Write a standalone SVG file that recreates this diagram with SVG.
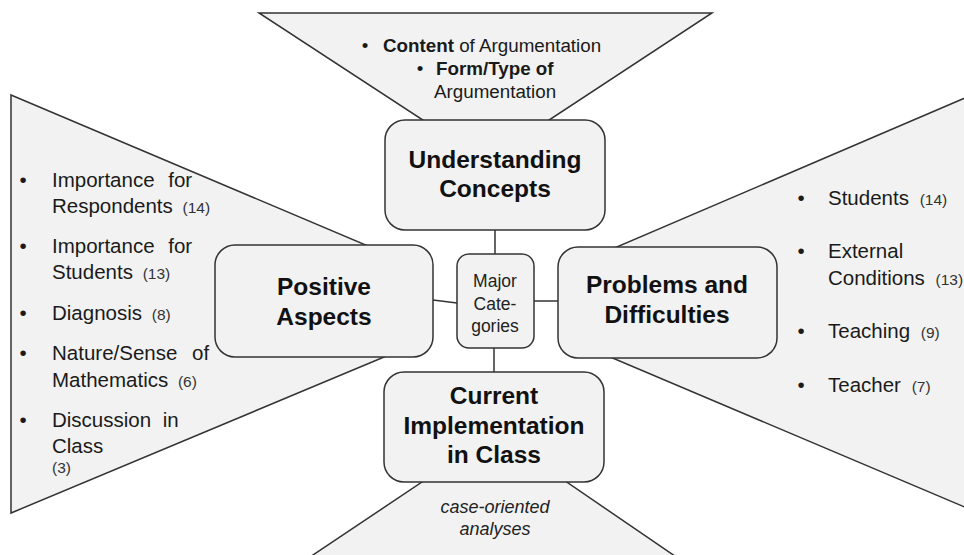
<svg xmlns="http://www.w3.org/2000/svg" width="964" height="555" viewBox="0 0 964 555">
<style>
.fan{fill:#f2f2f2;stroke:#333;stroke-width:1.5;stroke-linejoin:miter}
.box{fill:#f2f2f2;stroke:#333;stroke-width:1.5}
.con{stroke:#333;stroke-width:1.5;fill:none}
.t{font-family:"Liberation Sans",Arial,sans-serif;fill:#1a1a1a}
.title{font-size:24.5px;font-weight:bold;text-anchor:middle;fill:#111}
.side{font-size:20.5px}
.top{font-size:18.8px}
.cnt{font-size:15.5px;fill:#333}
.mid{font-size:17.5px;text-anchor:middle;fill:#222}
.it{font-size:18px;font-style:italic;text-anchor:middle;fill:#222}
.b{font-weight:bold}
.bul{text-anchor:middle}
</style>
<rect width="964" height="555" fill="#fff"/>
<g id="fans">
<polygon class="fan" points="259,13 712,13 534,130 438,130"/>
<polygon class="fan" points="11,95 420,268 420,342 11,513"/>
<polygon class="fan" points="570,267 1000,83 1000,522 570,340"/>
<polygon class="fan" points="437,472 552,472 688,565 298,565"/>
</g>
<g id="connectors">
<line class="con" x1="495" y1="230" x2="495" y2="254"/>
<line class="con" x1="494" y1="348" x2="494" y2="372"/>
<line class="con" x1="433" y1="300" x2="457" y2="303"/>
<line class="con" x1="534" y1="301" x2="558" y2="301"/>
</g>
<g id="understanding">
<rect class="box" x="385" y="120" width="220" height="110" rx="20"/>
<text class="t title" x="495" y="168">Understanding</text>
<text class="t title" x="495" y="197">Concepts</text>
</g>
<g id="positive">
<rect class="box" x="215" y="245" width="218" height="112" rx="20"/>
<text class="t title" x="324" y="295">Positive</text>
<text class="t title" x="324" y="325">Aspects</text>
</g>
<g id="major">
<rect class="box" x="457" y="254" width="77" height="94" rx="12"/>
<text class="t mid" x="495" y="287">Major</text>
<text class="t mid" x="495" y="310">Cate-</text>
<text class="t mid" x="495" y="332">gories</text>
</g>
<g id="problems">
<rect class="box" x="558" y="247" width="219" height="111" rx="20"/>
<text class="t title" x="667" y="293">Problems and</text>
<text class="t title" x="667" y="323">Difficulties</text>
</g>
<g id="current">
<rect class="box" x="384" y="372" width="220" height="110" rx="20"/>
<text class="t title" x="494" y="404">Current</text>
<text class="t title" x="494" y="434">Implementation</text>
<text class="t title" x="494" y="463">in Class</text>
</g>
<g id="top-text">
<text class="t top bul" x="365" y="52">•</text>
<text class="t top" x="383" y="52"><tspan class="b">Content</tspan> of Argumentation</text>
<text class="t top bul" x="420" y="75">•</text>
<text class="t top b" x="436" y="75">Form/Type of</text>
<text class="t top" x="434" y="98">Argumentation</text>
</g>
<g id="left-text">
<text class="t side bul" x="23" y="187">•</text>
<text class="t side" x="52" y="187" word-spacing="8">Importance for</text>
<text class="t side" x="52" y="213">Respondents <tspan class="cnt" dx="4">(14)</tspan></text>
<text class="t side bul" x="23" y="253">•</text>
<text class="t side" x="52" y="253" word-spacing="8">Importance for</text>
<text class="t side" x="52" y="279">Students <tspan class="cnt" dx="4">(13)</tspan></text>
<text class="t side bul" x="23" y="320">•</text>
<text class="t side" x="52" y="320">Diagnosis <tspan class="cnt" dx="4">(8)</tspan></text>
<text class="t side bul" x="23" y="360">•</text>
<text class="t side" x="52" y="360" word-spacing="9">Nature/Sense of</text>
<text class="t side" x="52" y="387">Mathematics <tspan class="cnt" dx="4">(6)</tspan></text>
<text class="t side bul" x="23" y="427">•</text>
<text class="t side" x="52" y="427" word-spacing="6">Discussion in</text>
<text class="t side" x="52" y="453">Class</text>
<text class="t cnt" x="52" y="473">(3)</text>
</g>
<g id="right-text">
<text class="t side bul" x="801" y="205">•</text>
<text class="t side" x="828" y="205">Students <tspan class="cnt" dx="5">(14)</tspan></text>
<text class="t side bul" x="801" y="258">•</text>
<text class="t side" x="828" y="258">External</text>
<text class="t side" x="828" y="285">Conditions <tspan class="cnt" dx="5">(13)</tspan></text>
<text class="t side bul" x="801" y="338">•</text>
<text class="t side" x="828" y="338">Teaching <tspan class="cnt" dx="5">(9)</tspan></text>
<text class="t side bul" x="801" y="392">•</text>
<text class="t side" x="828" y="392">Teacher <tspan class="cnt" dx="5">(7)</tspan></text>
</g>
<g id="bottom-text">
<text class="t it" x="495" y="513">case-oriented</text>
<text class="t it" x="495" y="535">analyses</text>
</g>
</svg>
